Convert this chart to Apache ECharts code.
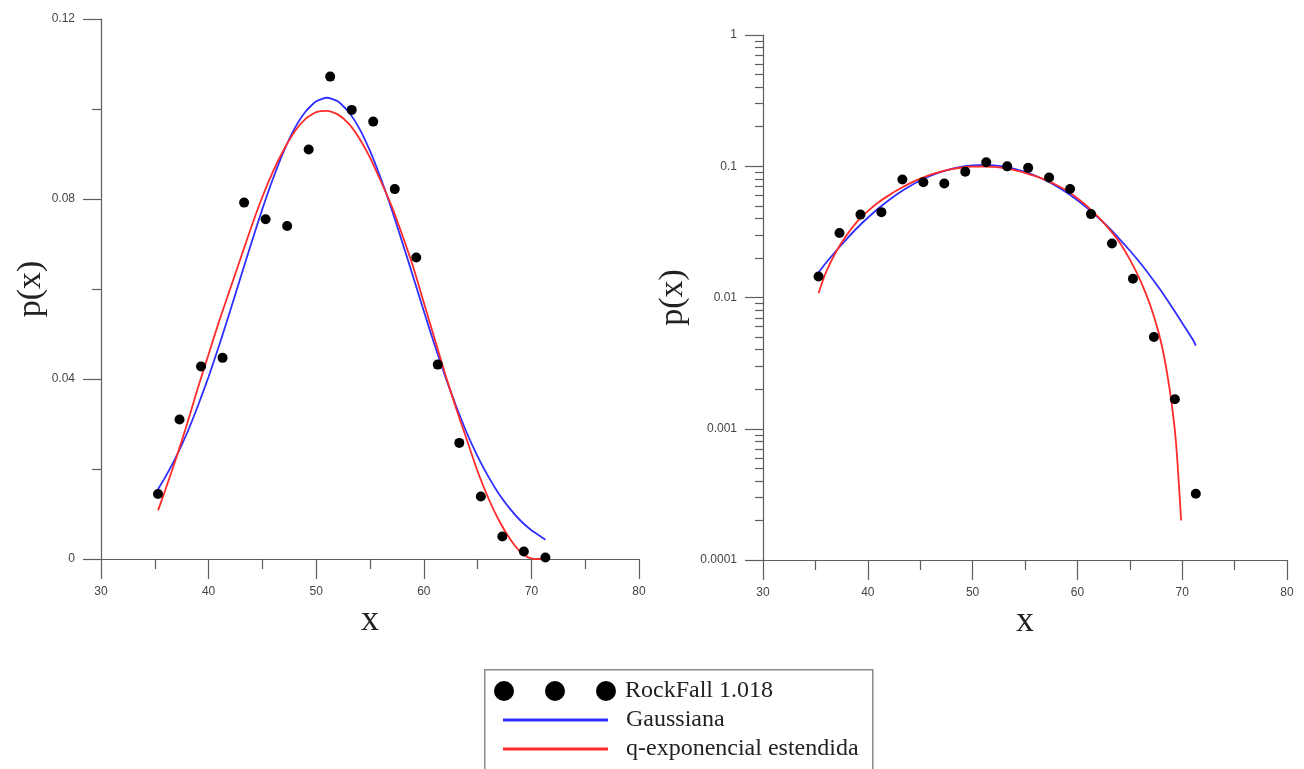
<!DOCTYPE html>
<html>
<head>
<meta charset="utf-8">
<script src="https://cdn.jsdelivr.net/npm/echarts@6/dist/echarts.min.js"></script>
<style>
  html, body { margin: 0; padding: 0; background: #fff; }
  #chart { width: 1304px; height: 769px; }
</style>
</head>
<body>
<div id="chart"></div>
<script>
// measured points (RockFall 1.018)
var rockX = [35.3, 37.3, 39.3, 41.3, 43.3, 45.3, 47.3, 49.3, 51.3, 53.3, 55.3, 57.3, 59.3, 61.3, 63.3, 65.3, 67.3, 69.3, 71.3];
var rockP = [0.01445, 0.0310, 0.0428, 0.0447, 0.0792, 0.0755, 0.0740, 0.0910, 0.1072, 0.0998, 0.0972, 0.0822, 0.0670, 0.0432, 0.0258, 0.0139, 0.0050, 0.00168, 0.00032];

// Gaussian fit
var gaussX = [35.3, 36, 37, 38, 39, 40, 41, 42, 43, 44, 45, 46, 47, 48, 49, 50, 51, 52, 53, 54, 55, 56, 57, 58, 59, 60, 61, 62, 63, 64, 65, 66, 67, 68, 69, 70, 71, 71.3];
var gaussP = [0.0155, 0.0183, 0.0228, 0.0280, 0.0340, 0.0405, 0.0476, 0.0551, 0.0628, 0.0704, 0.0778, 0.0846, 0.0907, 0.0957, 0.0994, 0.1017, 0.1025, 0.1017, 0.0994, 0.0957, 0.0907, 0.0846, 0.0778, 0.0704, 0.0628, 0.0551, 0.0476, 0.0405, 0.0340, 0.0280, 0.0228, 0.0183, 0.0144, 0.0112, 0.0085, 0.0064, 0.0048, 0.0043];

// extended q-exponential fit
var qexpX = [35.3, 36, 37, 38, 39, 40, 41, 42, 43, 44, 45, 46, 47, 48, 49, 50, 51, 52, 53, 54, 55, 56, 57, 58, 59, 60, 61, 62, 63, 64, 65, 66, 67, 68, 68.8, 69.4, 69.9, 70.5, 71.3];
var qexpP = [0.0108, 0.0155, 0.0225, 0.0300, 0.0380, 0.0455, 0.0530, 0.0600, 0.0670, 0.0740, 0.0805, 0.0862, 0.0910, 0.0950, 0.0978, 0.0993, 0.0996, 0.0988, 0.0968, 0.0935, 0.0892, 0.0840, 0.0785, 0.0720, 0.0650, 0.0570, 0.0490, 0.0410, 0.0335, 0.0265, 0.0195, 0.0135, 0.0085, 0.0045, 0.0020, 0.0008, 0.0002, 0, 0];

var linLabels = ["0", "0.04", "0.08", "0.12"];
var logLabels = ["0.0001", "0.001", "0.01", "0.1", "1"];
var logDecades = [-4, -3, -2, -1];

function pairs(xs, ys, logOnly) {
	var out = [];
	for (var i = 0; i < xs.length; i++) {
		if (logOnly && !(ys[i] > 0)) continue;
		out.push([xs[i], ys[i]]);
	}
	return out;
}

// minor ticks 2..9 of each decade, in log10 units
var minorLog = [];
logDecades.forEach(function (d) {
	for (var k = 2; k <= 9; k++) minorLog.push(d + Math.log10(k));
});

var axisGrey = "#5e5e5e";
var labelFont = {color: "#444", fontSize: 12, fontFamily: "Liberation Sans, Arial, sans-serif"};
var serif = "Liberation Serif, Times New Roman, serif";
var blue = "#2f2fff";
var red = "#ff2b2b";

function xAxisFor(grid) {
	return {
		type: "value", gridIndex: grid, min: 30, max: 80, interval: 10, position: "bottom",
		name: "x", nameLocation: "middle", nameGap: 40,
		nameTextStyle: {fontFamily: serif, fontSize: 36, color: "#222"},
		axisLine: {onZero: false, lineStyle: {color: axisGrey, width: 1.2}},
		axisTick: {length: 20, lineStyle: {color: axisGrey, width: 1.2}},
		minorTick: {show: true, splitNumber: 2, length: 10, lineStyle: {color: axisGrey, width: 1.2}},
		axisLabel: Object.assign({margin: 27}, labelFont),
		splitLine: {show: false}
	};
}

function fitLine(name, xs, ys, grid, color, logOnly) {
	return {
		name: name, type: "line", xAxisIndex: grid, yAxisIndex: grid,
		data: pairs(xs, ys, logOnly), smooth: 0.2, showSymbol: false,
		lineStyle: {color: color, width: 1.8}, itemStyle: {color: color}
	};
}

function dots(grid, logOnly) {
	return {
		name: "RockFall 1.018", type: "scatter", xAxisIndex: grid, yAxisIndex: grid,
		data: pairs(rockX, rockP, logOnly), symbolSize: 10,
		itemStyle: {color: "#000", opacity: 1}, z: 5
	};
}

var myChart = echarts.init(document.getElementById("chart"));
var option = {
	backgroundColor: "#fff",
	animation: false,
	grid: [
		{left: 101, right: 665, top: 19, bottom: 210},
		{left: 763, right: 17, top: 35, bottom: 209}
	],
	xAxis: [xAxisFor(0), xAxisFor(1)],
	yAxis: [{
		type: "value", gridIndex: 0, min: 0, max: 0.12, interval: 0.04, position: "left",
		name: "p(x)", nameLocation: "middle", nameRotate: 90, nameGap: 53,
		nameTextStyle: {fontFamily: serif, fontSize: 34, color: "#222"},
		axisLine: {lineStyle: {color: axisGrey, width: 1.2}},
		axisTick: {length: 18, lineStyle: {color: axisGrey, width: 1.2}},
		minorTick: {show: true, splitNumber: 2, length: 9, lineStyle: {color: axisGrey, width: 1.2}},
		axisLabel: Object.assign({margin: 26, formatter: function (v) { return linLabels[Math.round(v / 0.04)]; }}, labelFont),
		splitLine: {show: false}
	}, {
		type: "log", gridIndex: 1, logBase: 10, min: 0.0001, max: 1, position: "left",
		name: "p(x)", nameLocation: "middle", nameRotate: 90, nameGap: 73,
		nameTextStyle: {fontFamily: serif, fontSize: 34, color: "#222"},
		axisLine: {lineStyle: {color: axisGrey, width: 1.2}},
		axisTick: {length: 18, lineStyle: {color: axisGrey, width: 1.2}},
		axisLabel: Object.assign({margin: 26, formatter: function (v) { return logLabels[Math.round(Math.log10(v)) + 4]; }}, labelFont),
		splitLine: {show: false}
	}, {
		// overlay carrying the 2..9 minor ticks of the log axis
		type: "value", gridIndex: 1, min: -4, max: 0, position: "left",
		axisLine: {show: false},
		axisTick: {show: true, length: 8, customValues: minorLog, lineStyle: {color: axisGrey, width: 1.2}},
		axisLabel: {show: false},
		splitLine: {show: false}
	}],
	legend: [{
		data: ["RockFall 1.018"], selectedMode: false,
		left: 494, top: 679, padding: 0, itemWidth: 122, itemHeight: 20,
		icon: "path://M0,10a10,10 0 1,0 20,0a10,10 0 1,0 -20,0Z M51,10a10,10 0 1,0 20,0a10,10 0 1,0 -20,0Z M102,10a10,10 0 1,0 20,0a10,10 0 1,0 -20,0Z",
		formatter: "{t|{name}}",
		textStyle: {rich: {t: {fontFamily: serif, fontSize: 24, color: "#222", padding: [0, 0, 0, 4]}}}
	}, {
		data: ["Gaussiana"], selectedMode: false,
		left: 503, top: 708, padding: 0, itemWidth: 105, itemHeight: 3, icon: "rect",
		formatter: "{t|{name}}",
		textStyle: {rich: {t: {fontFamily: serif, fontSize: 24, color: "#222", padding: [0, 0, 0, 13]}}}
	}, {
		data: ["q-exponencial estendida"], selectedMode: false,
		left: 503, top: 737, padding: 0, itemWidth: 105, itemHeight: 3, icon: "rect",
		formatter: "{t|{name}}",
		textStyle: {rich: {t: {fontFamily: serif, fontSize: 24, color: "#222", padding: [0, 0, 0, 13]}}}
	}],
	graphic: [{
		type: "rect", z: -1, left: 484, top: 669,
		shape: {width: 388, height: 120},
		style: {fill: "#fff", stroke: "#8a8a8a", lineWidth: 1.5}
	}],
	series: [
		fitLine("Gaussiana", gaussX, gaussP, 0, blue),
		fitLine("q-exponencial estendida", qexpX, qexpP, 0, red),
		dots(0),
		fitLine("Gaussiana", gaussX, gaussP, 1, blue, true),
		fitLine("q-exponencial estendida", qexpX, qexpP, 1, red, true),
		dots(1, true)
	]
};
myChart.setOption(option);
</script>
</body>
</html>
